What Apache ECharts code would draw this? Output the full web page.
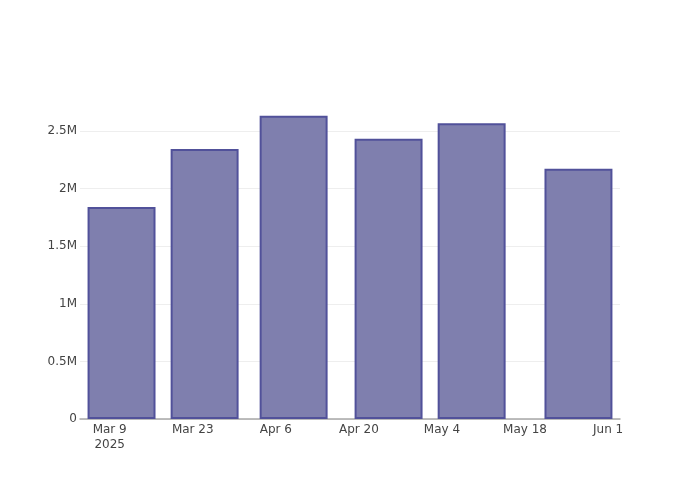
<!DOCTYPE html>
<html>
<head>
<meta charset="utf-8">
<script src="https://cdn.jsdelivr.net/npm/echarts@6/dist/echarts.min.js"></script>
<style>html,body{margin:0;padding:0;background:#fff}#c{width:700px;height:500px}</style>
</head>
<body>
<div id="c"></div>
<script>
const barDates = ['2025-03-11','2025-03-25','2025-04-09','2025-04-25','2025-05-09','2025-05-27'];
const barValues = [1840000, 2344000, 2633000, 2433000, 2567000, 2173000];
const tickDates = ['2025-03-09','2025-03-23','2025-04-06','2025-04-20','2025-05-04','2025-05-18','2025-06-01'];
const tickLabels = ['Mar 9\n2025','Mar 23','Apr 6','Apr 20','May 4','May 18','Jun 1'];
const xMinDate = '2025-03-04';
const xMaxDate = '2025-06-03';

const ts = s => { const [y,m,d] = s.split('-').map(Number); return Date.UTC(y, m-1, d); };
const tickTs = tickDates.map(ts);
const DAY = 86400000;
const gridW = 540;
const spanDays = (ts(xMaxDate) - ts(xMinDate)) / DAY;
const barW = gridW / spanDays * 11.2 + 1.5;

const chart = echarts.init(document.getElementById('c'), null, {renderer: 'canvas'});
chart.setOption({
  animation: false,
  textStyle: {fontFamily: 'DejaVu Sans'},
  grid: {left: 80, right: 80, top: 100, bottom: 81, containLabel: false},
  xAxis: {
    type: 'value',
    min: ts(xMinDate),
    max: ts(xMaxDate),
    axisLine: {show: true, onZero: false, lineStyle: {color: '#a8a8a8', width: 1.5}},
    axisTick: {show: false, customValues: tickTs},
    splitLine: {show: false},
    axisLabel: {
      customValues: tickTs,
      color: '#444', fontSize: 12, fontFamily: 'DejaVu Sans',
      lineHeight: 15, margin: 3,
      hideOverlap: false,
      formatter: v => { const i = tickTs.indexOf(v); return i >= 0 ? tickLabels[i] : ''; }
    }
  },
  yAxis: {
    type: 'value',
    min: 0,
    max: 2769000,
    interval: 500000,
    axisLine: {show: false},
    axisTick: {show: false},
    splitLine: {show: true, showMaxLine: false, lineStyle: {color: '#eeeeee', width: 1}},
    axisLabel: {
      color: '#444', fontSize: 12, fontFamily: 'DejaVu Sans', margin: 3,
      showMaxLabel: false,
      formatter: v => v === 0 ? '0' : (v / 1e6) + 'M'
    }
  },
  series: [{
    type: 'bar',
    barWidth: barW,
    data: barDates.map((d, i) => [ts(d), barValues[i]]),
    itemStyle: {color: '#7f7fae', borderColor: '#51519a', borderWidth: 2}
  }]
});
</script>
</body>
</html>
